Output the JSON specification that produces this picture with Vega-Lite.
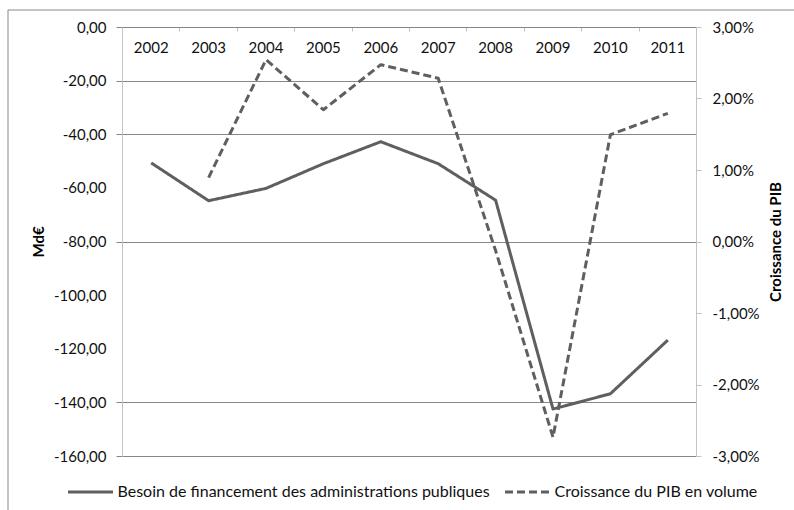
{
  "$schema": "https://vega.github.io/schema/vega-lite/v6.json",
  "width": 786.5,
  "height": 500.5,
  "padding": {"left": 7.5, "top": 9.5, "right": 0, "bottom": 0},
  "autosize": {"type": "none"},
  "background": "white",
  "config": {
    "font": "Lato",
    "view": {"stroke": "#898989", "strokeWidth": 1, "strokeDash": [786.5, 1287, 500.5]},
    "axis": {
      "translate": 0,
      "labelFont": "Lato",
      "labelFontSize": 15,
      "labelColor": "#111111",
      "titleFont": "Lato",
      "titleFontSize": 15,
      "titleFontWeight": "bold",
      "titleColor": "#000000"
    }
  },
  "data": {
    "values": [
      {"annee": "2002", "besoin": -50.5, "croissance": null},
      {"annee": "2003", "besoin": -64.6, "croissance": 0.9},
      {"annee": "2004", "besoin": -60.0, "croissance": 2.55},
      {"annee": "2005", "besoin": -50.8, "croissance": 1.85},
      {"annee": "2006", "besoin": -42.6, "croissance": 2.48},
      {"annee": "2007", "besoin": -50.8, "croissance": 2.29},
      {"annee": "2008", "besoin": -64.4, "croissance": -0.12},
      {"annee": "2009", "besoin": -142.3, "croissance": -2.73},
      {"annee": "2010", "besoin": -136.6, "croissance": 1.5},
      {"annee": "2011", "besoin": -116.6, "croissance": 1.8}
    ]
  },
  "encoding": {
    "x": {
      "field": "annee",
      "type": "ordinal",
      "scale": {"type": "band", "range": [115, 689], "paddingInner": 0, "paddingOuter": 0},
      "axis": {
        "orient": "top",
        "offset": -18,
        "title": null,
        "tickBand": "extent",
        "domainColor": "#868686",
        "tickColor": "#bfbfbf",
        "tickSize": -4,
        "labelAngle": 0,
        "labelBaseline": "alphabetic",
        "labelPadding": -21.5,
        "grid": false
      }
    }
  },
  "layer": [
    {
      "mark": {"type": "line", "color": "#5f5f5f", "strokeWidth": 3, "strokeJoin": "round"},
      "encoding": {
        "y": {
          "field": "besoin",
          "type": "quantitative",
          "scale": {"domain": [-160, 0], "range": [447, 18], "nice": false, "zero": false},
          "axis": {
            "orient": "left",
            "offset": -115,
            "values": [0, -20, -40, -60, -80, -100, -120, -140, -160],
            "labelExpr": "(datum.value < 0 ? '-' : '') + replace(format(abs(datum.value), '.2f'), '.', ',')",
            "domainColor": "#c4c4c4",
            "tickSize": 6,
            "tickColor": "#868686",
            "tickOpacity": {"condition": {"test": "indexof([0, -20, -40, -80, -140, -160], datum.value) >= 0", "value": 1}, "value": 0},
            "grid": true,
            "gridColor": "#868686",
            "gridOpacity": {"condition": {"test": "indexof([0, -20, -40, -80, -140, -160], datum.value) >= 0", "value": 1}, "value": 0},
            "labelPadding": 10,
            "title": "Md€",
            "titleX": -83.5,
            "titleY": 232.5,
            "titleAngle": 270,
            "titleAlign": "center",
            "titleBaseline": "middle"
          }
        },
        "strokeDash": {
          "datum": "Besoin de financement des administrations publiques",
          "type": "nominal",
          "scale": {
            "domain": ["Besoin de financement des administrations publiques", "Croissance du PIB en volume"],
            "range": [[1, 0], [8, 4]]
          },
          "legend": {
            "orient": "none",
            "legendX": 59,
            "legendY": 458.5,
            "direction": "horizontal",
            "title": null,
            "symbolType": "stroke",
            "symbolSize": 2025,
            "symbolStrokeWidth": 3,
            "symbolStrokeColor": "#5f5f5f",
            "labelFont": "Lato",
            "labelFontSize": 16,
            "labelColor": "#111111",
            "labelLimit": 0,
            "labelOffset": 3,
            "columnPadding": 8,
            "padding": 0
          }
        }
      }
    },
    {
      "mark": {"type": "line", "color": "#5f5f5f", "strokeWidth": 3, "strokeJoin": "round"},
      "encoding": {
        "y": {
          "field": "croissance",
          "type": "quantitative",
          "scale": {"domain": [-3, 3], "range": [447, 18], "nice": false, "zero": false},
          "axis": {
            "orient": "right",
            "offset": -97.5,
            "values": [-3, -2, -1, 0, 1, 2, 3],
            "labelExpr": "(datum.value < 0 ? '-' : '') + replace(format(abs(datum.value), '.2f'), '.', ',') + '%'",
            "domainColor": "#c4c4c4",
            "tickSize": 5,
            "tickColor": "#c4c4c4",
            "grid": false,
            "labelPadding": 11,
            "title": "Croissance du PIB",
            "titleX": 79.5,
            "titleY": 232.5,
            "titleAngle": 270,
            "titleAlign": "center",
            "titleBaseline": "middle"
          }
        },
        "strokeDash": {"datum": "Croissance du PIB en volume", "type": "nominal"}
      }
    }
  ],
  "resolve": {"scale": {"y": "independent"}}
}
